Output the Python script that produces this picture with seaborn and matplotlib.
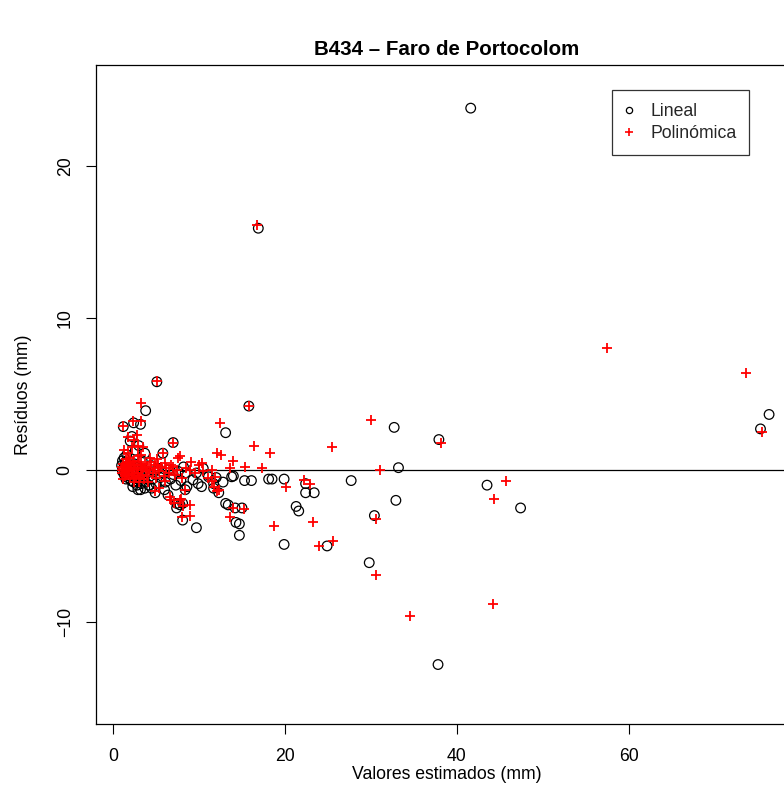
import matplotlib
matplotlib.use("Agg")
import matplotlib.pyplot as plt
from matplotlib.lines import Line2D
import seaborn as sns

# Lineal model: fitted values and residuals (mm)
lin_x = [41.6, 16.9, 5.1, 3.8, 15.8, 3.2, 1.2, 13.1, 7.0, 5.8, 3.7, 2.4, 32.7, 37.9,
         33.2, 43.5, 47.4, 32.9, 30.4, 29.8, 37.8, 76.3, 75.3,
         13.8, 14.0, 15.3, 16.1, 18.1, 18.5, 19.9, 22.4, 22.4, 23.4, 27.7, 21.3, 21.6,
         19.9, 24.9, 14.7, 14.3, 14.7, 13.1, 13.4, 14.2, 15.0, 9.7, 8.1, 7.4, 8.1,
         3.2, 4.9, 4.5, 12.3, 8.2, 8.4, 9.7, 11.1, 9.3, 9.9, 11.7, 6.0, 6.4, 8.4, 7.4,
         11.7, 2.9, 8.6, 10.3, 7.8,
         1.0, 1.1, 1.2, 1.3, 1.4, 1.5, 1.6, 1.7, 1.8, 1.9, 2.0, 2.1, 2.2, 2.3, 2.4,
         2.5, 2.6, 2.7, 2.8, 2.9, 3.0, 3.1, 3.3, 3.4, 3.5, 3.6, 3.8, 4.0, 4.2, 4.4,
         4.6, 4.8, 5.0, 5.3, 5.5, 5.8, 6.1, 6.4, 6.7, 7.0, 7.3, 7.6, 7.9, 1.3, 1.6,
         2.0, 2.2, 2.6, 3.0, 1.1, 1.5, 2.3, 3.7, 10.5, 11.0, 12.0, 12.8]
lin_y = [23.8, 15.9, 5.8, 3.9, 4.2, 3.0, 2.85, 2.45, 1.8, 1.1, 1.1, 3.1, 2.8, 2.0,
         0.15, -1.0, -2.5, -2.0, -3.0, -6.1, -12.8, 3.65, 2.7,
         -0.45, -0.4, -0.7, -0.7, -0.6, -0.6, -0.6, -0.9, -1.5, -1.5, -0.7, -2.4, -2.7,
         -4.9, -5.0, -4.3, -3.45, -3.55, -2.2, -2.3, -2.5, -2.5, -3.8, -3.3, -2.5, -2.2,
         -1.3, -1.5, -1.2, -1.5, 0.2, -0.2, -0.2, -0.45, -0.65, -0.9, -0.9, -1.3, -1.65, -1.3, -2.2,
         -1.2, -1.3, -1.1, -1.1, -2.3,
         0.3, -0.1, 0.1, -0.3, 0.5, -0.2, 0.2, -0.5, 0.0, -0.4, 0.3, -0.7, 0.1, -0.3, -0.8,
         0.4, -0.5, 0.0, -1.0, -0.6, 0.2, -0.3, -0.9, 0.6, -0.5, 0.0, -0.8, -0.2, -1.0, 0.3,
         -0.6, -0.1, -0.9, 0.1, -0.5, -0.2, -0.8, 0.0, -0.6, -0.3, -1.0, -0.1, -0.7, 0.8, 1.0,
         1.9, 2.2, 1.3, 1.6, 0.6, -0.6, -1.1, -1.2, 0.1, -0.3, -0.5, -0.8]

# Polynomial model: fitted values and residuals (mm)
pol_x = [16.8, 5.1, 3.3, 15.8, 2.3, 3.2, 1.2, 12.4, 7.0, 16.4, 18.3, 12.1, 12.6, 5.8,
         7.6, 14.0, 15.3, 17.3, 13.6, 25.5, 30.0, 38.2, 31.0, 45.7, 44.3, 30.6, 30.6,
         34.5, 44.2, 57.5, 73.6, 75.5,
         22.2, 22.9, 20.1, 23.3, 18.7, 23.9, 25.6, 13.6, 14.0, 15.2, 8.0, 8.9, 7.1, 7.9,
         6.6, 12.3, 11.8, 6.8, 7.8, 8.2, 9.0, 4.9, 5.3, 8.4, 11.5, 11.9, 12.1, 7.8, 10.3,
         9.1, 9.0, 10.5, 11.5, 4.9, 6.0, 7.0,
         1.8, 2.75, 2.4, 2.9, 3.5, 1.8, 2.9, 1.0, 1.1, 1.2, 1.3, 1.4, 1.5, 1.6, 1.7, 1.8,
         1.9, 2.0, 2.1, 2.2, 2.3, 2.4, 2.5, 2.6, 2.7, 2.8, 2.9, 3.0, 3.1, 3.2, 3.3, 3.4,
         3.5, 3.6, 3.7, 3.8, 3.9, 4.0, 4.2, 4.4, 4.6, 4.8, 5.0, 5.2, 5.4, 5.6, 5.9, 6.2,
         6.5, 6.8, 7.2, 7.5, 8.0, 8.5, 9.5, 10.0, 11.0, 1.2, 1.5, 2.0, 2.5, 3.0, 1.3,
         2.2, 3.3, 4.3, 4.1, 5.1, 6.0, 1.05, 1.15, 1.25, 1.35, 1.45, 1.55, 1.65, 1.75,
         1.85, 1.95]
pol_y = [16.1, 5.85, 4.4, 4.2, 3.2, 3.2, 2.9, 3.1, 1.8, 1.6, 1.1, 1.1, 1.0, 1.1,
         0.8, 0.6, 0.2, 0.1, 0.1, 1.5, 3.3, 1.8, 0.0, -0.7, -1.9, -3.2, -6.9,
         -9.6, -8.8, 8.0, 6.4, 2.5,
         -0.65, -0.9, -1.1, -3.4, -3.7, -5.0, -4.65, -3.1, -2.5, -2.6, -3.1, -3.0, -2.2, -1.9,
         -1.75, -1.3, -1.1, -2.0, -2.0, -2.4, -2.3, -1.4, -1.2, -1.3, -0.75, -0.45, -1.4, 0.9, 0.45,
         0.55, 0.0, -0.1, 0.0, 0.3, 0.45, 0.2,
         2.2, 2.3, 2.0, 1.6, 1.5, 1.1, 0.9, 0.2, -0.2, 0.4, 0.0, -0.4, 0.3, -0.1, 0.5, -0.3,
         0.1, -0.5, 0.2, -0.2, 0.6, -0.6, 0.0, 0.3, -0.4, 0.1, -0.2, 0.5, -0.5, 0.0, 0.3, -0.3,
         0.1, -0.6, 0.4, -0.1, 0.2, -0.4, 0.0, 0.5, -0.2, 0.1, -0.5, 0.3, -0.1, 0.2, -0.4, 0.1,
         -0.2, 0.3, -0.3, 0.0, -0.5, 0.1, -0.2, 0.3, -0.5, -0.6, 0.7, 0.8, -0.8, -0.8, 1.3,
         1.5, 1.0, 0.8, -0.8, 0.7, -0.7, 0.0, 0.15, -0.15, 0.25, -0.25, 0.05, -0.35, 0.35,
         -0.05, 0.45]

sns.set_theme(style="white")
plt.rcParams["font.family"] = ["Liberation Sans", "DejaVu Sans"]
fontsize = 12.7

fig = plt.figure(figsize=(7.84, 8.09), dpi=100)
ax = fig.add_axes([0.1224, 0.1051, 0.894, 0.8146])

sns.scatterplot(x=lin_x, y=lin_y, ax=ax, marker="o", s=48,
                facecolor="none", edgecolor="black", linewidth=0.9, zorder=3)
sns.scatterplot(x=pol_x, y=pol_y, ax=ax, marker="+", s=55,
                color="red", linewidth=1.3, zorder=4)
ax.axhline(0, color="black", linewidth=0.9, zorder=2)

ax.set_xlim(-1.98, 79.53)
ax.set_ylim(-16.71, 26.64)
ax.set_xticks([0, 20, 40, 60])
ax.set_yticks([-10, 0, 10, 20])
ax.tick_params(axis="both", direction="out", length=7, width=0.8, color="black",
               labelsize=fontsize, labelcolor="black", bottom=True, left=True)
ax.tick_params(axis="x", pad=10)
ax.tick_params(axis="y", pad=9)
for lab in ax.get_yticklabels():
    lab.set_rotation(90)
    lab.set_verticalalignment("center")
for sp in ax.spines.values():
    sp.set_color("black")
    sp.set_linewidth(0.9)

ax.set_xlabel("Valores estimados (mm)", fontsize=fontsize, color="black", labelpad=1)
ax.set_ylabel("Resíduos (mm)", fontsize=fontsize, color="black", labelpad=18)
ax.set_title("B434 – Faro de Portocolom", fontsize=14.8, fontweight="bold",
             color="black", pad=7)

handles = [
    Line2D([], [], marker="o", linestyle="none", markerfacecolor="none",
           markeredgecolor="black", markersize=4.5, markeredgewidth=0.9),
    Line2D([], [], marker="+", linestyle="none", color="red",
           markersize=6, markeredgewidth=1.2),
]
leg = ax.legend(handles, ["Lineal", "Polinómica"], loc="upper left",
                bbox_to_anchor=(0.736, 0.962), frameon=True, fancybox=False,
                edgecolor="black", fontsize=fontsize, handletextpad=0.95,
                borderpad=0.72, labelspacing=0.32, handlelength=0.5, borderaxespad=0)
leg.get_frame().set_linewidth(0.9)

fig.savefig("out.png", dpi=100)
